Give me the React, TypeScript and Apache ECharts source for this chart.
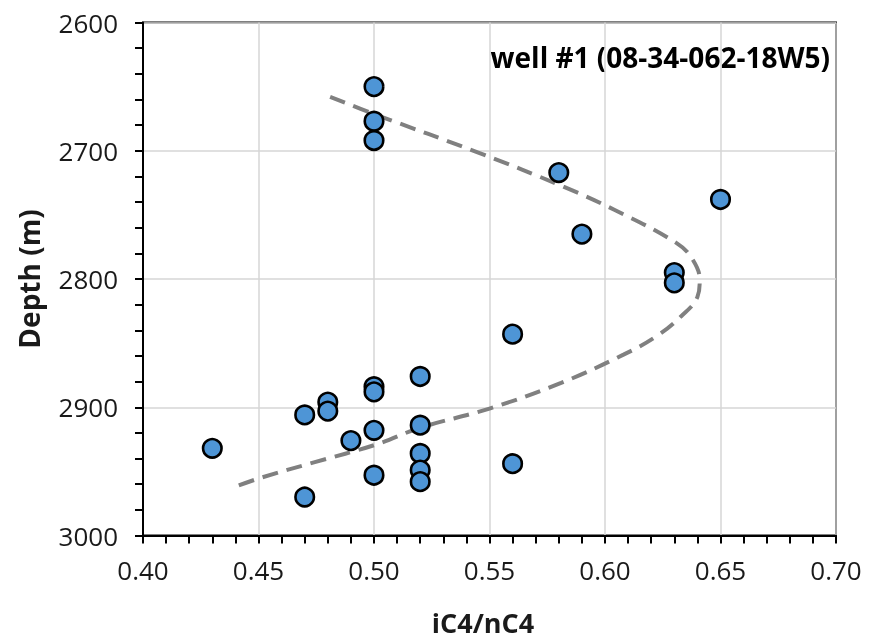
import React, { useEffect, useRef } from "react";
import * as echarts from "echarts";

const ratio = [0.50, 0.50, 0.50, 0.58, 0.65, 0.59, 0.63, 0.63, 0.56, 0.52, 0.50, 0.50, 0.48, 0.48, 0.47, 0.52, 0.50, 0.49, 0.43, 0.52, 0.56, 0.52, 0.50, 0.52, 0.47];
const depth = [2650, 2677, 2692, 2717, 2738, 2765, 2795, 2803, 2843, 2876, 2884, 2888, 2896, 2903, 2906, 2914, 2918, 2926, 2932, 2936, 2944, 2949, 2953, 2958, 2970];

const trendRatio = [0.481, 0.501, 0.546, 0.582, 0.604, 0.631, 0.638, 0.641, 0.640, 0.633, 0.622, 0.608, 0.581, 0.550, 0.520, 0.501, 0.474, 0.451, 0.440];
const trendDepth = [2658, 2672, 2702, 2728, 2746, 2772, 2785, 2801, 2814, 2829, 2845, 2859, 2881, 2901, 2916, 2929, 2943, 2955, 2962];

const title = "well #1 (08-34-062-18W5)";
const xTitle = "iC4/nC4";
const yTitle = "Depth (m)";

export default function App() {
  const ref = useRef<HTMLDivElement>(null);
  useEffect(() => {
    if (!ref.current) return;
    const chart = echarts.init(ref.current, null, { renderer: "svg" });
    const tickFont = { fontFamily: "Open Sans", fontSize: 26, color: "#1a1a1a" };
    chart.setOption({
      animation: false,
      grid: { left: 143, right: 33, top: 22.5, bottom: 106.5, show: true, borderColor: "#000", borderWidth: 2, backgroundColor: "transparent" },
      xAxis: {
        type: "value", min: 0.4, max: 0.7, interval: 0.05,
        axisLine: { show: true, lineStyle: { color: "#000", width: 2 } },
        axisTick: { show: true, inside: false, length: 8, lineStyle: { color: "#000", width: 2 } },
        minorTick: { show: true, splitNumber: 5, length: 8, lineStyle: { color: "#000", width: 2 } },
        splitLine: { show: true, lineStyle: { color: "#d6d6d6", width: 1.5 } },
        axisLabel: { ...tickFont, margin: 21, formatter: (v: number) => v.toFixed(2) },
      },
      yAxis: {
        type: "value", min: 2600, max: 3000, interval: 100, inverse: true,
        axisLine: { show: true, lineStyle: { color: "#000", width: 2 } },
        axisTick: { show: true, inside: false, length: 8, lineStyle: { color: "#000", width: 2 } },
        minorTick: { show: true, splitNumber: 5, length: 8, lineStyle: { color: "#000", width: 2 } },
        splitLine: { show: true, lineStyle: { color: "#d6d6d6", width: 1.5 } },
        axisLabel: { ...tickFont, margin: 25, formatter: (v: number) => String(v) },
      },
      graphic: [
        { type: "text", x: 830, y: 57, style: { text: title, fontFamily: "Open Sans", fontWeight: "bold", fontSize: 28, fill: "#000", textAlign: "right", textVerticalAlign: "middle" } },
        { type: "text", x: 483, y: 622, style: { text: xTitle, fontFamily: "Open Sans", fontWeight: "bold", fontSize: 27, lineHeight: 28, fill: "#1a1a1a", textAlign: "center", textVerticalAlign: "middle" } },
        { type: "text", x: 29, y: 279, rotation: Math.PI / 2, style: { text: yTitle, fontFamily: "Open Sans", fontWeight: "bold", fontSize: 28, fill: "#1a1a1a", textAlign: "center", textVerticalAlign: "middle" } },
      ],
      series: [
        {
          type: "line", smooth: 0.4, symbol: "none", z: 2,
          data: trendRatio.map((r, i) => [r, trendDepth[i]]),
          lineStyle: { color: "#808080", width: 4, type: [16, 9] },
        },
        {
          type: "scatter", symbol: "circle", symbolSize: 18.5, z: 3,
          data: ratio.map((r, i) => [r, depth[i]]),
          itemStyle: { color: "#4E95D6", borderColor: "#000", borderWidth: 2.6, opacity: 1 },
        },
      ],
    });
    return () => chart.dispose();
  }, []);
  return <div ref={ref} style={{ position: "fixed", left: 0, top: 0, width: 869, height: 642 }} />;
}
